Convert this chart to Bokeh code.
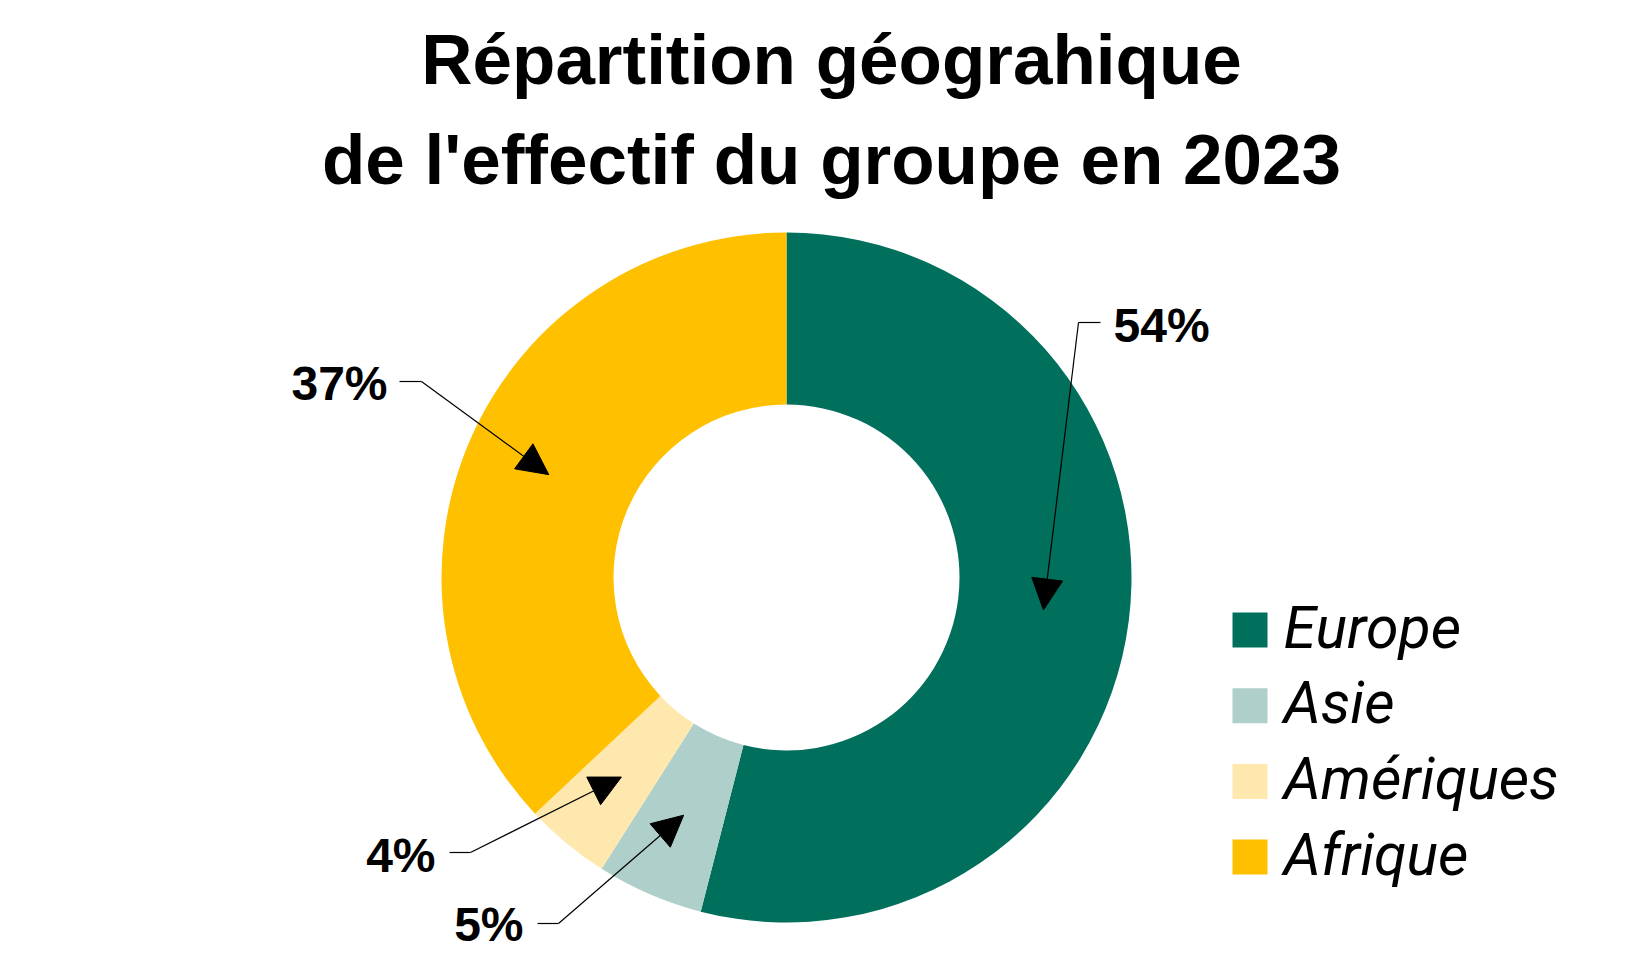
import numpy as np
from bokeh.plotting import figure
from bokeh.models import Range1d, Arrow, NormalHead, ColumnDataSource
from bokeh.core.properties import value
from bokeh.embed import file_html
from bokeh.resources import INLINE

# ---- data ----
regions = ["Europe", "Asie", "Amériques", "Afrique"]
shares = [54, 5, 4, 37]
colors = ["#006F5C", "#AECFCA", "#FFE8AD", "#FFC000"]
pct_labels = ["54%", "5%", "4%", "37%"]
title_lines = ["Répartition géograhique", "de l'effectif du groupe en 2023"]

# ---- layout (page pixel coordinates, y measured downwards) ----
W, H = 1650, 972
BASE_FIX = 0.36  # compensation of the baseline offset of rendered text (in em)


def sy(y):
    return H - y


def ty(y, size):
    # screen baseline -> data y for a text glyph of given font size
    return H - (y - BASE_FIX * size)


p = figure(width=W, height=H, x_range=Range1d(0, W), y_range=Range1d(0, H),
           output_backend="svg", toolbar_location=None, x_axis_type=None, y_axis_type=None,
           min_border=0, outline_line_color=None, background_fill_color="white",
           border_fill_color="white")
p.grid.visible = False

cx, cy = 786, sy(577)
r_in, r_out = 173, 345

vals = np.array(shares, dtype=float)
frac = vals / vals.sum()
cum = np.concatenate([[0.0], np.cumsum(frac)])
start = np.pi / 2 - 2 * np.pi * cum[:-1]
end = np.pi / 2 - 2 * np.pi * cum[1:]
mid = (start + end) / 2

wedges = ColumnDataSource(dict(start=start, end=end, color=colors, region=regions))
p.annular_wedge(x=cx, y=cy, inner_radius=r_in, outer_radius=r_out,
                start_angle="start", end_angle="end", direction="clock",
                fill_color="color", line_color=None, source=wedges)

# leader lines + arrows pointing to middle of each ring segment
r_mid = (r_in + r_out) / 2
tip_x = cx + r_mid * np.cos(mid)
tip_y = cy + r_mid * np.sin(mid)

elbow_x = [1078, 558, 470, 421]
elbow_y = [sy(322), sy(923), sy(852), sy(381)]
lead_x = [1100, 537, 449, 399]
text_x = [1113, 523, 435, 387]
base_y = [342, 941, 872, 400]
left_aligned = [True, False, False, False]
LBL = 48

p.segment(x0=lead_x, y0=elbow_y, x1=elbow_x, y1=elbow_y, line_color="black", line_width=1.2)
arrows = ColumnDataSource(dict(x0=elbow_x, y0=elbow_y, x1=tip_x, y1=tip_y))
p.add_layout(Arrow(end=NormalHead(size=31, fill_color="black", line_color="black", line_width=1),
                   x_start="x0", y_start="y0", x_end="x1", y_end="y1",
                   line_color="black", line_width=1.2, source=arrows))

for align, flag in (("left", True), ("right", False)):
    idx = [i for i, f in enumerate(left_aligned) if f == flag]
    p.text(x=[text_x[i] for i in idx], y=[ty(base_y[i], LBL) for i in idx],
           text=[pct_labels[i] for i in idx], text_align=align, text_baseline="alphabetic",
           text_font=value("Liberation Sans"), text_font_style="bold",
           text_font_size=f"{LBL}px", text_color="black")

# title
TS = 71
p.text(x=[831, 831], y=[ty(85, TS), ty(185, TS)], text=title_lines, text_align="center",
       text_baseline="alphabetic", text_font=value("Liberation Sans"),
       text_font_style="bold", text_font_size=f"{TS}px", text_color="black")

# legend
LS = 59
pitch = 75.7
leg_y = [629.5 + pitch * i for i in range(len(regions))]
p.rect(x=[1249.5] * len(regions), y=[sy(v) for v in leg_y], width=35, height=35,
       fill_color=colors, line_color=None)
p.text(x=[1283] * len(regions), y=[ty(v + 18.5, LS) for v in leg_y], text=regions,
       text_align="left", text_baseline="alphabetic", text_font=value("Roboto"),
       text_font_style="italic", text_font_size=f"{LS}px", text_color="black")

open("out.html", "w").write(file_html(p, INLINE))
